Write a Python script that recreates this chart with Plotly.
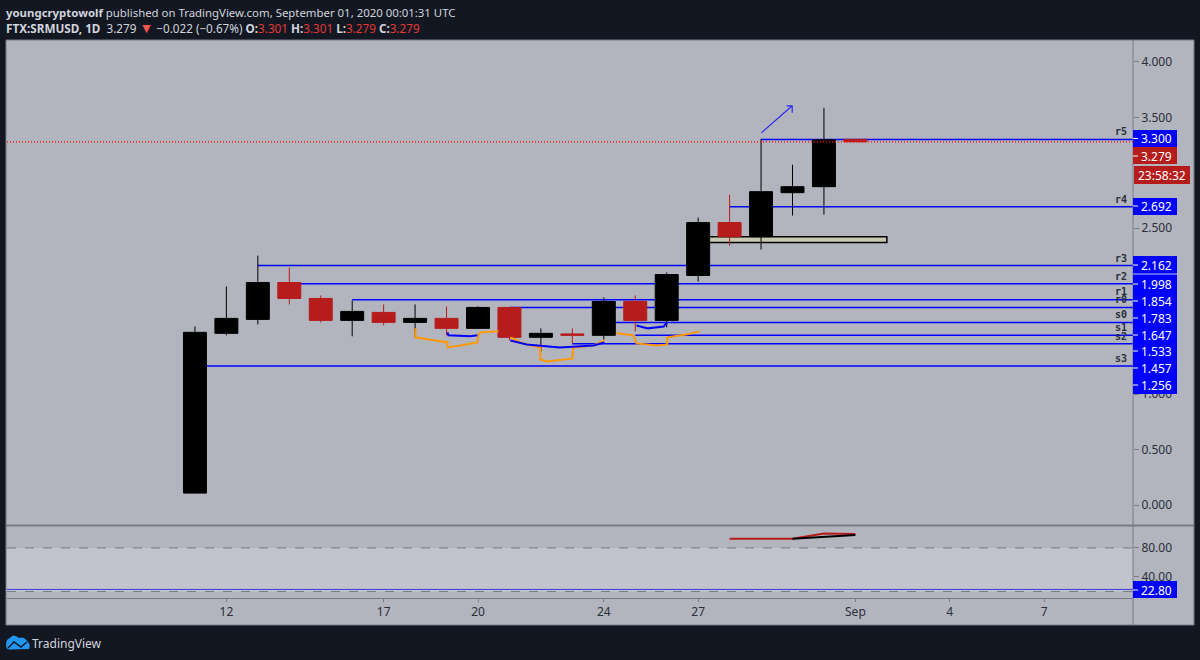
import pandas as pd
import plotly.graph_objects as go

# daily candles, Aug 11 - Sep 1 2020
dates = pd.date_range("2020-08-11", "2020-09-01", freq="D")
opens = [0.108, 1.550, 1.676, 2.009, 1.865, 1.667, 1.739, 1.649, 1.685, 1.595, 1.784, 1.514,
         1.545, 1.532, 1.838, 1.667, 2.072, 2.550, 2.423, 2.820, 2.874, 3.301]
highs = [1.613, 1.973, 2.252, 2.144, 1.892, 1.847, 1.811, 1.811, 1.793, 1.793, 1.784, 1.595,
         1.595, 1.874, 1.892, 2.099, 2.595, 2.802, 3.306, 3.072, 3.586, 3.301]
lows = [0.108, 1.532, 1.631, 1.811, 1.649, 1.523, 1.622, 1.514, 1.532, 1.595, 1.486, 1.387,
        1.459, 1.495, 1.568, 1.604, 2.018, 2.342, 2.306, 2.613, 2.622, 3.279]
closes = [1.559, 1.685, 2.009, 1.865, 1.667, 1.748, 1.649, 1.685, 1.595, 1.784, 1.514, 1.550,
          1.532, 1.838, 1.667, 2.081, 2.550, 2.423, 2.829, 2.874, 3.297, 3.279]

# pivot levels
level_names = ["r5", "r4", "r3", "r2", "r1", "r0", "s0", "s1", "s2", "s3"]
level_values = [3.300, 2.692, 2.162, 1.998, 1.854, 1.783, 1.647, 1.533, 1.457, 1.256]
level_starts = ["2020-08-29", "2020-08-28", "2020-08-13", "2020-08-14", "2020-08-16",
                "2020-08-21", "2020-08-24", "2020-08-25", "2020-08-23", "2020-08-11"]
level_label_y = [131, 199, 258, 276, 291, 299, 314, 327, 336, 358]
last_price = 3.279

# hand drawn strokes, x is day of August
orange_days = [[18.01, 18.01, 19.03, 19.03, 19.44, 19.98, 20.01, 20.08, 20.65],
               [21.03, 21.44, 21.98, 21.98, 22.21, 23.0, 23.03, 23.67, 24.02],
               [24.4, 24.94, 25.04, 25.7, 26.02, 26.02, 26.66, 27.04]]
orange_prices = [[1.595, 1.514, 1.468, 1.423, 1.441, 1.468, 1.532, 1.559, 1.568],
                 [1.514, 1.459, 1.423, 1.315, 1.297, 1.324, 1.423, 1.441, 1.486],
                 [1.550, 1.532, 1.459, 1.441, 1.450, 1.514, 1.541, 1.568]]
blue_days = [[19.03, 19.06, 19.76, 19.98],
             [21.03, 21.55, 22.6, 23.67, 24.02],
             [25.04, 25.4, 25.9, 26.02]]
blue_prices = [[1.559, 1.532, 1.523, 1.532],
               [1.486, 1.450, 1.423, 1.441, 1.468],
               [1.621, 1.595, 1.612, 1.649]]
arrow_days = [29.01, 29.99, 29.81, 29.99, 29.99]
arrow_prices = [3.360, 3.604, 3.604, 3.604, 3.541]

# lower pane
rsi_dates = ["2020-08-28", "2020-08-29", "2020-08-30", "2020-08-31", "2020-09-01"]
rsi_red = [92.8, 92.8, 92.8, 100.0, 99.3]
rsi_black = [None, None, 92.8, 95.3, 98.0]
rsi_level = 22.80

# 3.000, 2.000 and 1.500 sit under the price tags in the original
price_ticks = [4.0, 3.5, 2.5, 1.0, 0.5, 0.0]
rsi_ticks = [80, 40]
time_tick_dates = ["2020-08-12", "2020-08-17", "2020-08-20", "2020-08-24", "2020-08-27",
                   "2020-09-01", "2020-09-04", "2020-09-07"]
time_tick_labels = ["12", "17", "20", "24", "27", "Sep", "4", "7"]

BG = "#131722"
PANEL = "#b2b5be"
BAND = "#c1c4cd"
EDGE = "#787b86"
BLUE = "#0000ff"
RED = "#b71c1c"
INK = "#2a2e39"
FONT = "Noto Sans"

L, R, T, B = 7, 1133, 41, 598
X_START = pd.Timestamp("2020-08-05 00:35")
X_END = pd.Timestamp("2020-09-09 19:50")


def px(x):
    return (x - L) / (R - L)


def py(y):
    return (B - y) / (B - T)


def aug(days):
    return [pd.Timestamp("2020-08-01") + pd.to_timedelta(d - 1, unit="D") for d in days]


def svg_path(parts):
    # parts are (command, x, y, x, y...) in page pixels
    out = []
    for p in parts:
        nums = p[1:]
        coords = [px(v) if i % 2 == 0 else py(v) for i, v in enumerate(nums)]
        out.append(p[0] + " " + " ".join(str(c) for c in coords))
    return " ".join(out)


fig = go.Figure()

fig.add_trace(go.Candlestick(
    x=dates, open=opens, high=highs, low=lows, close=closes,
    whiskerwidth=0,
    increasing=dict(line=dict(color="#000000", width=1), fillcolor="#000000"),
    decreasing=dict(line=dict(color=RED, width=1), fillcolor=RED),
))
for d, p in zip(orange_days, orange_prices):
    fig.add_trace(go.Scatter(x=aug(d), y=p, mode="lines", line=dict(color="#ff9800", width=2)))
for d, p in zip(blue_days, blue_prices):
    fig.add_trace(go.Scatter(x=aug(d), y=p, mode="lines", line=dict(color=BLUE, width=2)))
fig.add_trace(go.Scatter(x=aug(arrow_days), y=arrow_prices, mode="lines", line=dict(color="#2a2af0", width=1.2)))
fig.add_trace(go.Scatter(x=rsi_dates, y=rsi_red, yaxis="y2", mode="lines", line=dict(color=RED, width=2)))
fig.add_trace(go.Scatter(x=rsi_dates, y=rsi_black, yaxis="y2", mode="lines", line=dict(color="#000000", width=2)))

shapes = [
    # panel behind everything
    dict(type="rect", xref="paper", yref="paper", x0=px(6), x1=px(1194), y0=py(625), y1=py(40),
         fillcolor=PANEL, line=dict(color=EDGE, width=1), layer="below"),
    dict(type="rect", xref="x", yref="y2", x0=X_START, x1=X_END, y0=20, y1=80,
         fillcolor=BAND, line=dict(width=0), layer="below"),
    dict(type="line", xref="x", yref="y2", x0=X_START, x1=X_END, y0=80, y1=80,
         line=dict(color=EDGE, width=1, dash="dash"), layer="below"),
    dict(type="line", xref="x", yref="y2", x0=X_START, x1=X_END, y0=20, y1=20,
         line=dict(color=EDGE, width=1, dash="dash"), layer="below"),
    dict(type="line", xref="x", yref="y2", x0=X_START, x1=X_END, y0=rsi_level, y1=rsi_level,
         line=dict(color="#3c3ce0", width=1), layer="below"),
    # highlighted zone
    dict(type="rect", xref="x", yref="y", x0="2020-08-27", x1="2020-09-02", y0=2.369, y1=2.423,
         fillcolor="#c8c8b0", line=dict(color="#000000", width=1.5), layer="below"),
    # pane borders
    dict(type="line", xref="paper", yref="paper", x0=px(6), x1=px(1194), y0=py(525.5), y1=py(525.5),
         line=dict(color=EDGE, width=2), layer="above"),
    dict(type="line", xref="paper", yref="paper", x0=px(1133), x1=px(1133), y0=py(625), y1=py(40),
         line=dict(color=EDGE, width=1), layer="above"),
    # last price dotted line
    dict(type="line", xref="x", yref="y", x0=X_START, x1=X_END, y0=last_price, y1=last_price,
         line=dict(color="#ff0000", width=1.2, dash="1px,2px"), layer="above"),
    # price tags block
    dict(type="rect", xref="paper", yref="paper", x0=px(1133), x1=px(1177), y0=py(394), y1=py(256),
         fillcolor=BLUE, line=dict(width=0), layer="above"),
    dict(type="line", xref="paper", yref="paper", x0=px(1133), x1=px(1177), y0=py(274), y1=py(274),
         line=dict(color="#c8c8e8", width=1), layer="above"),
    dict(type="rect", xref="paper", yref="paper", x0=px(1133), x1=px(1177), y0=py(147), y1=py(130),
         fillcolor=BLUE, line=dict(width=0), layer="above"),
    dict(type="rect", xref="paper", yref="paper", x0=px(1133), x1=px(1177), y0=py(164), y1=py(147),
         fillcolor=RED, line=dict(width=0), layer="above"),
    dict(type="rect", xref="paper", yref="paper", x0=px(1134), x1=px(1190), y0=py(184), y1=py(166),
         fillcolor=RED, line=dict(width=0), layer="above"),
    dict(type="rect", xref="paper", yref="paper", x0=px(1133), x1=px(1177), y0=py(215), y1=py(198),
         fillcolor=BLUE, line=dict(width=0), layer="above"),
    dict(type="rect", xref="paper", yref="paper", x0=px(1133), x1=px(1177), y0=py(598), y1=py(581),
         fillcolor=BLUE, line=dict(width=0), layer="above"),
    # logo
    dict(type="path", xref="paper", yref="paper", fillcolor="#2196f3", line=dict(width=0), layer="above",
         path=svg_path([("M", 6, 645), ("Q", 6, 639, 10, 638), ("Q", 13, 633, 19, 638),
                        ("Q", 24, 636, 27, 641), ("Q", 31, 644, 29, 649), ("L", 9, 649.5),
                        ("Q", 6, 649, 6, 645), ("Z",)])),
    dict(type="path", xref="paper", yref="paper", line=dict(color=BG, width=1.5), layer="above",
         path=svg_path([("M", 8, 648), ("L", 14, 642), ("L", 21, 647), ("L", 27, 642)])),
]

# level lines sit behind the candles
for value, start in zip(level_values, level_starts):
    shapes.append(dict(type="line", xref="x", yref="y", x0=start, x1=X_END, y0=value, y1=value,
                       line=dict(color=BLUE, width=1.5), layer="below"))

annotations = []


def text(x, y, s, size=12, color="#ffffff", xanchor="left", family=FONT):
    annotations.append(dict(xref="paper", yref="paper", x=px(x), y=py(y), text=s, showarrow=False,
                            xanchor=xanchor, yanchor="middle", align="left",
                            font=dict(family=family, size=size, color=color)))


red_txt = "<span style='color:#e53935'>%s</span>"
arrow_txt = "<span style='color:#ef5350;font-size:14px'>▼</span>"
text(4, 12, "<b>youngcryptowolf</b> published on TradingView.com, September 01, 2020 00:01:31 UTC",
     size=11.4, color="#d1d4dc")
text(4, 28, "<b>FTX:SRMUSD, 1D</b>  3.279 " + arrow_txt + " −0.022 (−0.67%) <b>O:</b>" + red_txt % "3.301"
     + " <b>H:</b>" + red_txt % "3.301" + " <b>L:</b>" + red_txt % "3.279" + " <b>C:</b>" + red_txt % "3.279",
     size=11.7, color="#d1d4dc")
text(30, 643, "TradingView", size=12, color="#d1d4dc")

for name, y in zip(level_names, level_label_y):
    text(1121, y, "<b>%s</b>" % name, size=10, color=INK, xanchor="center", family="DejaVu Sans Mono")

tag_rows = [("3.300", 138.5), ("3.279", 156), ("2.692", 206), ("2.162", 265), ("1.998", 284), ("1.854", 301),
            ("1.783", 318), ("1.647", 335), ("1.533", 351), ("1.457", 368), ("1.256", 385), ("22.80", 590)]
for label, y in tag_rows:
    text(1156, y, label, xanchor="center")
    shapes.append(dict(type="line", xref="paper", yref="paper", x0=px(1133), x1=px(1138), y0=py(y), y1=py(y),
                       line=dict(color="#ffffff", width=1), layer="above"))
text(1162, 175, "23:58:32", xanchor="center")

fig.update_layout(
    width=1200, height=660,
    margin=dict(l=L, r=1200 - R, t=T, b=660 - B, pad=0),
    paper_bgcolor=BG, plot_bgcolor="rgba(0,0,0,0)",
    showlegend=False,
    boxgap=0.27, boxgroupgap=0,
    font=dict(family=FONT, size=12, color=INK),
    shapes=shapes,
    annotations=annotations,
    xaxis=dict(
        anchor="y2", range=[X_START, X_END], rangeslider=dict(visible=False),
        tickmode="array", tickvals=time_tick_dates, ticktext=time_tick_labels,
        ticks="outside", ticklen=3, tickcolor=EDGE, showgrid=False, zeroline=False,
        showline=True, linecolor=EDGE, linewidth=1, tickfont=dict(size=12, color=INK),
    ),
    yaxis=dict(
        domain=[py(525), 1], side="right", anchor="x", range=[-0.18, 4.189],
        tickmode="array", tickvals=price_ticks, ticktext=["%.3f" % v for v in price_ticks],
        ticks="outside", ticklen=5, tickcolor=EDGE, showgrid=False, zeroline=False,
        tickfont=dict(size=12, color=INK),
    ),
    yaxis2=dict(
        domain=[0, py(526)], side="right", anchor="x", range=[11, 110.3],
        tickmode="array", tickvals=rsi_ticks, ticktext=["%.2f" % v for v in rsi_ticks],
        ticks="outside", ticklen=5, tickcolor=EDGE, showgrid=False, zeroline=False,
        tickfont=dict(size=12, color=INK),
    ),
)

fig.write_html("out.html", config=dict(displayModeBar=False),
               post_script="document.body.style.margin='0';document.body.style.overflow='hidden';document.body.style.background='%s';" % BG)
